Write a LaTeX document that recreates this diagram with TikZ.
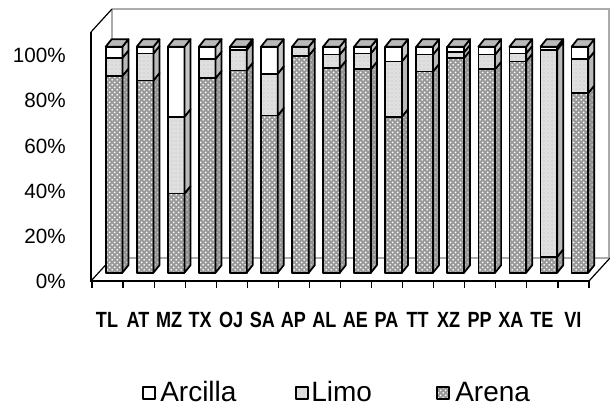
\documentclass[tikz,border=0pt]{standalone}
\usepackage{fontspec}
\setmainfont{Liberation Sans}
\newfontfamily\catfont[FakeStretch=0.82]{Liberation Sans Bold}
\usetikzlibrary{patterns}
\pgfdeclarepatternformonly{sanddots}{\pgfpointorigin}{\pgfqpoint{4pt}{4pt}}{\pgfqpoint{4pt}{4pt}}{%
\pgfpathcircle{\pgfqpoint{1pt}{1pt}}{0.8pt}%
\pgfpathcircle{\pgfqpoint{3pt}{3pt}}{0.8pt}%
\pgfusepath{fill}}
\tikzset{
bar/.style={postaction={draw=black,line width=1.3pt,line join=round}},
arena/.style={fill=gray!80,postaction={pattern=sanddots,pattern color=white}},
arenaside/.style={fill=gray!85,postaction={pattern=sanddots,pattern color=gray!45}},
limo/.style={fill=gray!25,postaction={pattern=dots,pattern color=gray!50}},
limoside/.style={fill=gray!55},
arcilla/.style={fill=white},
arcillaside/.style={fill=gray!45},
captop/.style={fill=gray!55},
wall/.style={draw=gray!65,line width=0.9pt},
catlabel/.style={font=\catfont\fontsize{16.5}{19}\selectfont,inner sep=0pt},
ylabel/.style={font=\fontsize{15.5}{18}\selectfont,anchor=east,inner sep=0pt},
leglabel/.style={font=\fontsize{21}{24}\selectfont,anchor=base west,inner sep=0pt}
}
\begin{document}
\begin{tikzpicture}[x=0.75pt,y=-0.75pt]
\useasboundingbox(0,0)rectangle(610,409);
%walls
\draw[wall](112,9)--(612,9);
\draw[wall](112,9)--(112,258)--(612,258);
\draw[wall](609,9)--(609,258);
\draw[line width=0.9pt](91,32)--(112,9);
\draw[line width=0.9pt](91,281)--(112,258);
\draw[line width=0.9pt](589,281)--(610,258);
%axis
\draw[line width=0.9pt](91,32)--(91,281)--(589,281);
\foreach \k in {0,...,16}{\draw[line width=0.9pt](92+31.06*\k,281)--++(0,7);}
\foreach \p [count=\i from 0] in {0,20,40,60,80,100}{\node[ylabel](y\p) at (66,281.5-45.2*\i){\p\%};}
%bars
\foreach \name/\ar/\li [count=\k from 0] in {TL/87/95,AT/85/97,MZ/35/69,TX/86/94.5,OJ/89.5/98.5,SA/69.5/88,AP/96/100,AL/90.5/96.5,AE/90/97,PA/69/93.5,TT/89/96.5,XZ/95/97.5,PP/90/96.5,XA/93.5/97,TE/7/98.7,VI/79.5/94.5}{
\pgfmathsetmacro\xl{105.7+31.06*\k}
\pgfmathsetmacro\xr{\xl+16.7}
\pgfmathsetmacro\ya{272.7-2.26*\ar}
\pgfmathsetmacro\yl{272.7-2.26*\li}
\path[arena,bar](\xl,272.7)rectangle(\xr,\ya);
\path[limo,bar](\xl,\ya)rectangle(\xr,\yl);
\path[arcilla,bar](\xl,\yl)rectangle(\xr,46.7);
\path[arenaside,bar](\xr,272.7)--++(6,-7.5)--(\xr+6,\ya-7.5)--(\xr,\ya)--cycle;
\path[limoside,bar](\xr,\ya)--(\xr+6,\ya-7.5)--(\xr+6,\yl-7.5)--(\xr,\yl)--cycle;
\path[arcillaside,bar](\xr,\yl)--(\xr+6,\yl-7.5)--(\xr+6,39.2)--(\xr,46.7)--cycle;
\path[captop,bar](\xl,46.7)--++(6,-7.5)--++(16.7,0)--++(-6,7.5)--cycle;
\node[catlabel](c\name) at (107+31.06*\k,319.5){\name};
}
%legend
\path[arcilla,bar](143,387)rectangle(155,399);
\node[leglabel](lArcilla) at (160,402){Arcilla};
\path[limo,bar](296,387)rectangle(308,399);
\node[leglabel](lLimo) at (311,402){Limo};
\path[arena,bar](437,387)rectangle(449,399);
\node[leglabel](lArena) at (455,402){Arena};
\end{tikzpicture}
\end{document}
